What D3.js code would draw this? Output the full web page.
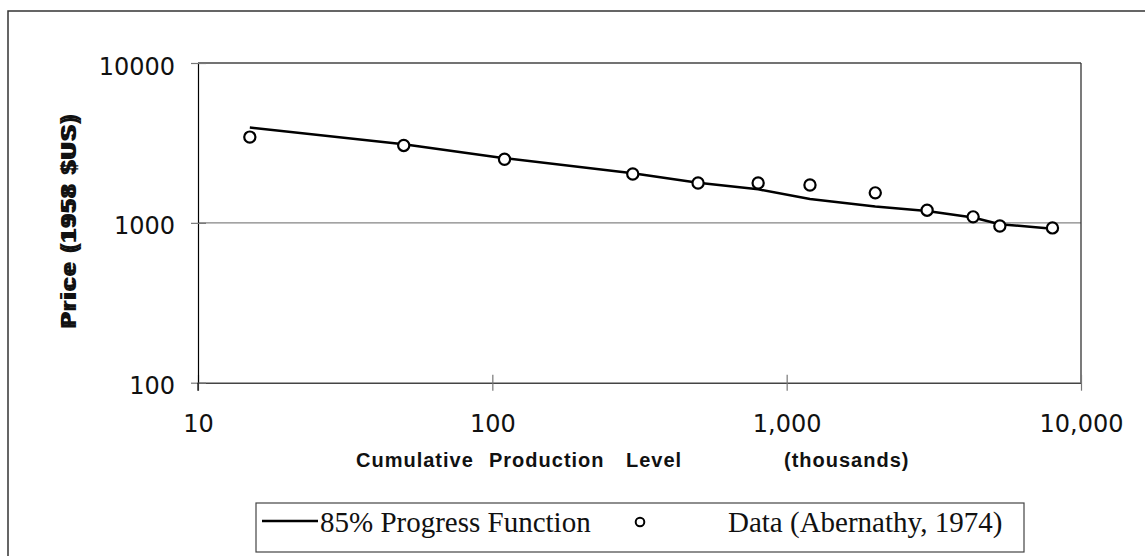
<!DOCTYPE html>
<html>
<head>
<meta charset="utf-8">
<script src="https://cdn.jsdelivr.net/npm/d3@7/dist/d3.min.js"></script>
<style>
  html, body { margin: 0; padding: 0; background: #fff; }
  svg { display: block; }
</style>
</head>
<body>
<svg id="chart" width="1145" height="556"></svg>
<script>
// ---- data ----
const production = [15, 50, 110, 300, 500, 800, 1200, 2000, 3000, 4300, 5300, 8000];
const dataPrice  = [3440, 3050, 2500, 2020, 1775, 1775, 1725, 1540, 1200, 1090, 955, 930];
const progressPrice = [3950, 3100, 2540, 2040, 1780, 1620, 1410, 1265, 1185, 1080, 980, 920];
const xTickValues = [10, 100, 1000, 10000];
const xTickLabels = ["10", "100", "1,000", "10,000"];
const yTickValues = [100, 1000, 10000];
const yTickLabels = ["100", "1000", "10000"];
const seriesNames = ["85% Progress Function", "Data (Abernathy, 1974)"];
const xTitleWords = ["Cumulative", "Production", "Level", "(thousands)"];
const yTitle = "Price (1958 $US)";

// ---- layout ----
const svg = d3.select("#chart");
const L = 198, R = 1081, T = 63, B = 382.7;
const x = d3.scaleLog().domain([10, 10000]).range([L, R]);
const y = d3.scaleLog().domain([100, 10000]).range([B, T]);

// outer border (runs off right/bottom)
svg.append("rect").attr("x", 8).attr("y", 11).attr("width", 1160).attr("height", 580)
  .attr("fill", "none").attr("stroke", "#333").attr("stroke-width", 1.5);

// gridlines
svg.append("g").selectAll("line").data(yTickValues.filter(v => v > 100)).join("line")
  .attr("x1", L).attr("x2", R).attr("y1", d => y(d)).attr("y2", d => y(d))
  .attr("stroke", d => d === 10000 ? "#444" : "#858585").attr("stroke-width", 1.4);

// right frame
svg.append("line").attr("x1", R).attr("x2", R).attr("y1", T).attr("y2", B)
  .attr("stroke", "#333").attr("stroke-width", 1.3);

// x axis
const xAxis = d3.axisBottom(x).tickValues(xTickValues)
  .tickFormat((d, i) => xTickLabels[i]).tickSizeInner(8).tickSizeOuter(0).tickPadding(0);
const gx = svg.append("g").attr("transform", `translate(0,${B})`).call(xAxis);
gx.select(".domain").attr("stroke", "#444").attr("stroke-width", 1.4);
gx.selectAll(".tick line").attr("y1", -8).attr("y2", 8).attr("stroke", "#777").attr("stroke-width", 1.2);
gx.selectAll(".tick text").attr("y", 49).attr("dy", null)
  .attr("font-family", "'DejaVu Sans', sans-serif").attr("font-size", 24).attr("fill", "#111");

// y axis
const yAxis = d3.axisLeft(y).tickValues(yTickValues)
  .tickFormat((d, i) => yTickLabels[i]).tickSizeInner(7).tickSizeOuter(0).tickPadding(0);
const gy = svg.append("g").attr("transform", `translate(${L},0)`).call(yAxis);
gy.select(".domain").attr("stroke", "#000").attr("stroke-width", 1.2);
gy.selectAll(".tick line").attr("x1", -7).attr("x2", 8).attr("stroke", "#777").attr("stroke-width", 1.2);
gy.selectAll(".tick text").attr("x", -23).attr("dy", "11px")
  .attr("font-family", "'DejaVu Sans', sans-serif").attr("font-size", 24).attr("fill", "#111");
svg.append("line").attr("x1", L).attr("x2", L).attr("y1", B).attr("y2", B + 8)
  .attr("stroke", "#000").attr("stroke-width", 1.2);

// progress function line
const pts = production.map((p, i) => [x(p), y(progressPrice[i])]);
svg.append("path").attr("d", d3.line()(pts))
  .attr("fill", "none").attr("stroke", "#000").attr("stroke-width", 2.5).attr("stroke-linejoin", "round");

// data points
svg.append("g").selectAll("circle").data(production).join("circle")
  .attr("cx", d => x(d)).attr("cy", (d, i) => y(dataPrice[i])).attr("r", 5.6)
  .attr("fill", "#fff").attr("stroke", "#000").attr("stroke-width", 2.2);

// x axis title (wide word gaps as in the original)
const xWordPos = [356, 489, 626, 784];
const xt = svg.append("text").attr("y", 467)
  .attr("font-family", "'Liberation Sans', Arial, sans-serif").attr("font-weight", "bold")
  .attr("font-size", 20).attr("letter-spacing", 1).attr("fill", "#111");
xt.selectAll("tspan").data(xTitleWords).join("tspan")
  .attr("x", (d, i) => xWordPos[i]).text(d => d);

// y axis title (over-printed look)
[0, 3].forEach(off => {
  svg.append("text").attr("transform", `translate(76,${223 - off}) rotate(-90)`)
    .attr("text-anchor", "middle")
    .attr("font-family", "'Liberation Sans', Arial, sans-serif").attr("font-weight", "bold")
    .attr("font-size", 22).attr("fill", "#111")
    .attr("textLength", 212).attr("lengthAdjust", "spacing").text(yTitle);
});

// legend
const lg = svg.append("g");
lg.append("rect").attr("x", 256).attr("y", 503).attr("width", 768).attr("height", 49)
  .attr("fill", "#fff").attr("stroke", "#444").attr("stroke-width", 1.2);
lg.append("line").attr("x1", 262).attr("x2", 318).attr("y1", 521).attr("y2", 521)
  .attr("stroke", "#000").attr("stroke-width", 2.5);
lg.append("text").attr("x", 320).attr("y", 532)
  .attr("font-family", "'Liberation Serif', 'Times New Roman', serif").attr("font-size", 29)
  .attr("fill", "#111").text(seriesNames[0]);
lg.append("circle").attr("cx", 640).attr("cy", 522).attr("r", 4.3)
  .attr("fill", "#fff").attr("stroke", "#000").attr("stroke-width", 2);
lg.append("text").attr("x", 728).attr("y", 532)
  .attr("font-family", "'Liberation Serif', 'Times New Roman', serif").attr("font-size", 29)
  .attr("fill", "#111").text(seriesNames[1]);
</script>
</body>
</html>
